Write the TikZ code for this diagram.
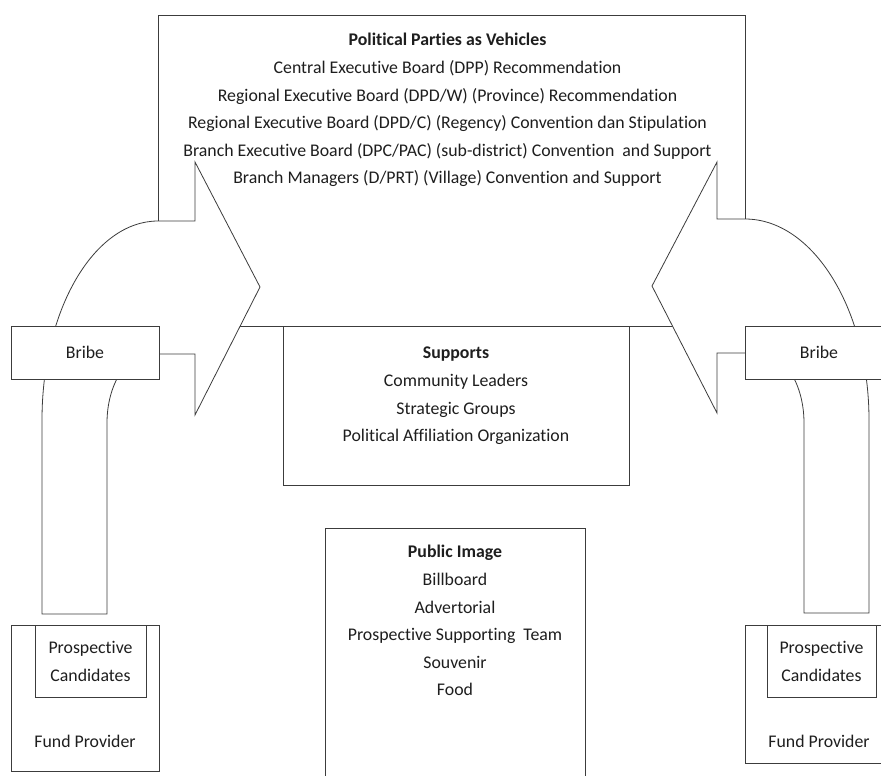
\documentclass[tikz,border=0pt]{standalone}
\usepackage{fontspec}
\setmainfont{Carlito}[Ligatures = {NoCommon}]
\usetikzlibrary{positioning}
\definecolor{linegray}{HTML}{3C3C3C}
\definecolor{textgray}{HTML}{1E1E1E}
\newcommand\boxfont{\fontsize{17.8}{27.6}\selectfont}
\tikzset{
  panel/.style = {draw = linegray, fill = white, line width = .8pt, inner sep = 0pt, text = textgray},
  bentarrow/.style = {draw = linegray, fill = white, line width = .8pt, line join = miter},
  boxtext/.style = {font = \boxfont, text = textgray, align = center, inner sep = 0pt}
}
\begin{document}
\begin{tikzpicture}[x = 1pt, y = -1pt]
	\useasboundingbox (0,0) rectangle (881,776);
	\clip (0,0) rectangle (881,776);
	% main boxes
	\node[panel, minimum width = 587pt, minimum height = 311pt] (parties) at (451.5,170.5) {};
	\node[panel, minimum width = 346pt, minimum height = 159pt] (supports) at (456,405.5) {};
	\node[panel, minimum width = 260pt, minimum height = 272pt] (public) at (455,664) {};
	% bent arrows
	\draw[bentarrow] (158,221) -- (195,221) -- (195,162) -- (260,287) -- (195,415) -- (195,354) -- (150,354)
		.. controls (126.3,354) and (107,384.9) .. (107,423) -- (107,614) -- (42,614) -- (42,420)
		.. controls (42,310.1) and (93.9,221) .. (158,221) -- cycle;
	\draw[bentarrow] (745,219) -- (717,219) -- (717,162) -- (652,286) -- (717,413) -- (717,353) -- (761,353)
		.. controls (784.7,353) and (804,384.9) .. (804,423) -- (804,613) -- (869,613) -- (869,420)
		.. controls (869,310.1) and (813.5,219) .. (745,219) -- cycle;
	% side boxes
	\node[panel, minimum width = 148pt, minimum height = 53pt, font = \boxfont] (bribeL) at (85,352.5) {Bribe};
	\node[panel, minimum width = 148pt, minimum height = 53pt, font = \boxfont] (bribeR) at (819,352.5) {Bribe};
	\node[panel, minimum width = 148pt, minimum height = 146pt] (fundL) at (85,698) {};
	\node[panel, minimum width = 148pt, minimum height = 138pt] (fundR) at (819,694) {};
	\node[panel, minimum width = 111pt, minimum height = 72pt] (prospL) at (90.5,661) {};
	\node[panel, minimum width = 109pt, minimum height = 72pt] (prospR) at (821.5,661) {};
	% texts
	\node[boxtext, below = 11.7pt of parties.north, xshift = -4pt] (partiestext) {\strut\textbf{Political Parties as Vehicles}\\
		Central Executive Board (DPP) Recommendation\\
		Regional Executive Board (DPD/W) (Province) Recommendation\\
		Regional Executive Board (DPD/C) (Regency) Convention dan Stipulation\\
		Branch Executive Board (DPC/PAC) (sub-district) Convention~ and Support\\
		Branch Managers (D/PRT) (Village) Convention and Support};
	\node[boxtext, below = 13.7pt of supports.north] (supportstext) {\strut\textbf{Supports}\\
		Community Leaders\\
		Strategic Groups\\
		Political Affiliation Organization};
	\node[boxtext, below = 10.7pt of public.north] (publictext) {\strut\textbf{Public Image}\\
		Billboard\\
		Advertorial\\
		Prospective Supporting~ Team\\
		Souvenir\\
		Food};
	\node[boxtext, below = 9.7pt of prospL.north] (prospLtext) {\strut Prospective\\ Candidates};
	\node[boxtext, below = 9.7pt of prospR.north] (prospRtext) {\strut Prospective\\ Candidates};
	\node[boxtext, below = 103.7pt of fundL.north] (fundLtext) {\strut Fund Provider};
	\node[boxtext, below = 103.7pt of fundR.north] (fundRtext) {\strut Fund Provider};
\end{tikzpicture}
\end{document}
